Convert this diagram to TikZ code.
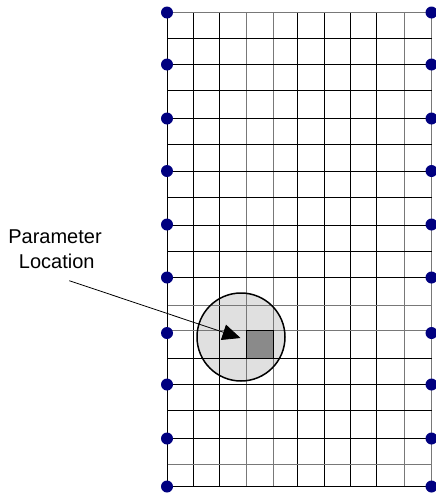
\documentclass[tikz,border=0pt]{standalone}
\usepackage{fontspec}
\setmainfont{Liberation Sans}
\usetikzlibrary{arrows.meta}
\definecolor{navydot}{RGB}{0,0,128}
\definecolor{gridgray}{RGB}{120,120,120}
\definecolor{zonefill}{RGB}{224,224,224}
\definecolor{cellfill}{RGB}{138,138,138}
\tikzset{
  gridline/.style={line width=1.3pt, black},
  gridlight/.style={line width=1.3pt, gridgray},
  bcdot/.style={fill=navydot},
  lbl/.style={font=\fontsize{20}{25}\selectfont, inner sep=0pt, anchor=base},
  zonefillstyle/.style={circle, fill=zonefill, minimum size=88pt, inner sep=0pt},
  cellbox/.style={draw=black, line width=1.8pt, fill=cellfill, minimum width=27pt, minimum height=28pt, inner sep=0pt},
  pointer/.style={line width=0.8pt, -{Triangle[length=18pt,width=16pt]}}
}
\begin{document}
\begin{tikzpicture}[x=1pt,y=-1pt]
\useasboundingbox (0,0) rectangle (436,493);
% circle fill below grid
\node[zonefillstyle] (zone) at (241,337) {};
% vertical lines
\foreach \x/\s in {167.5/gridline,193.5/gridline,219.5/gridline,246.5/gridlight,273.5/gridlight,297.5/gridline,324.5/gridline,350.5/gridline,376.5/gridline,404.5/gridlight,431.5/gridlight}
  \draw[\s] (\x,12.5) -- (\x,486.5);
% horizontal lines
\foreach \y/\s in {12.5/gridlight,38.5/gridline,64.5/gridline,90.5/gridline,118.5/gridline,144.5/gridline,171.5/gridline,197.5/gridline,225.5/gridline,251.5/gridline,277.5/gridline,305.5/gridlight,330.5/gridlight,358.5/gridline,384.5/gridline,410.5/gridline,438.5/gridline,464.5/gridlight,486.5/gridline}
  \draw[\s] (167.5,\y) -- (431.5,\y);
% circle border
\draw[line width=1.5pt] (zone.center) circle[radius=44];
% parameter cell
\node[cellbox] (cell) at (260,344.5) {};
% boundary dots
\foreach \y in {12.5,64.5,118.5,171,224.5,277.5,333,384.5,438.5,486.5} {
  \fill[bcdot] (167,\y) circle[radius=6];
  \fill[bcdot] (431.5,\y) circle[radius=6];
}
% label
\node[lbl] (lblA) at (55,243.3) {Parameter};
\node[lbl] (lblB) at (56.7,268.3) {Location};
\coordinate (src) at (69.3,280.7);
\coordinate (tip) at (240.5,338);
\draw[pointer] (src) -- (tip);
\end{tikzpicture}
\end{document}
